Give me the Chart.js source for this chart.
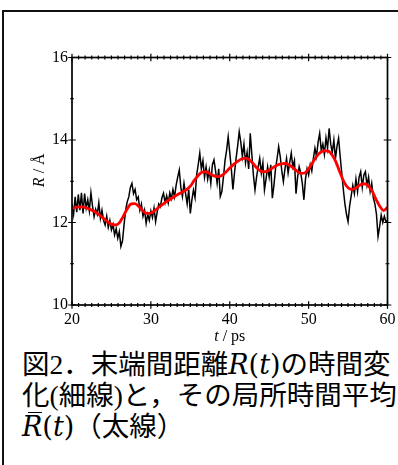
<!DOCTYPE html>
<html>
<head>
<meta charset="utf-8">
<script src="https://cdn.jsdelivr.net/npm/chart.js@4.4.1/dist/chart.umd.min.js"></script>
<style>
  html, body { margin: 0; padding: 0; background: #fff; overflow: hidden; width: 398px; height: 465px; }
  #frame { position: absolute; left: 2px; top: 10px; width: 460px; height: 520px; border: 2px solid #111; }
  #plotWrap { position: absolute; left: 0; top: 0; width: 420px; height: 345px; }
  #caption {
    position: absolute; left: 22px; top: 349px;
    font-family: "Liberation Serif", "Noto Sans CJK JP", serif;
    font-size: 27.5px; line-height: 31px; white-space: nowrap; color: #000;
  }
  .mi { font-family: "DejaVu Serif", serif; font-style: italic; font-size: 27px; }
  .mp { font-family: "DejaVu Serif", serif; font-size: 27px; }
  .rbar { position: relative; display: inline-block; }
  .rbar::before { content: ''; position: absolute; left: 6px; right: 0px; top: 1px; border-top: 1.6px solid #000; }
</style>
</head>
<body>
<div id="frame"></div>
<div id="plotWrap"><canvas id="plot"></canvas></div>
<div id="caption">図2．末端間距離<span class="mi">R</span><span class="mp">(</span><span class="mi">t</span><span class="mp">)</span>の時間変<br>化(細線)と，その局所時間平均<br><span class="mi rbar">R</span><span class="mp">(</span><span class="mi">t</span><span class="mp">)</span>（太線）</div>
<script>
// Axis ranges and tick labels
const X_MIN = 20, X_MAX = 60, X_MAJOR = 10, X_MINOR_PER_MAJOR = 12;
const Y_MIN = 10, Y_MAX = 16, Y_MAJOR = 2, Y_MINOR = 1;
const xTickLabels = ['20', '30', '40', '50', '60'];
const yTickLabels = ['10', '12', '14', '16'];

// End-to-end distance R(t), sampled every 0.2 ps from t = 20 ps
const R_T0 = 20, R_DT = 0.2;
const rRaw = [
  12.45, 12.20, 12.62, 12.25, 12.68,
  12.30, 12.72, 12.22, 12.70, 12.35,
  12.55, 12.28, 12.72, 12.40, 12.14,
  12.32, 12.20, 12.48, 12.10, 12.30,
  12.05, 11.94, 12.15, 11.88, 12.05,
  11.82, 11.95, 11.70, 11.85, 11.62,
  11.78, 11.42, 11.55, 11.95, 12.30,
  12.50, 12.62, 12.85, 12.95, 12.70,
  12.80, 12.55, 12.62, 12.30, 12.45,
  12.15, 12.30, 11.98, 12.20, 12.05,
  12.28, 12.12, 12.35, 12.02, 12.25,
  12.45, 12.38, 12.60, 12.71, 12.48,
  12.65, 12.47, 12.72, 12.58, 12.80,
  12.62, 12.90, 13.10, 13.27, 12.85,
  12.63, 12.95, 12.70, 12.45, 12.80,
  12.22, 12.55, 12.79, 12.60, 13.15,
  13.40, 13.68, 13.30, 13.50, 13.10,
  13.35, 13.05, 13.27, 12.95, 13.40,
  13.52, 13.25, 12.95, 13.30, 12.63,
  12.75, 13.10, 13.50, 13.75, 14.08,
  13.70, 13.30, 12.80, 13.20, 13.55,
  13.85, 14.20, 13.95, 13.60, 13.90,
  13.45, 13.70, 13.30, 14.16, 13.65,
  13.15, 12.79, 13.10, 13.35, 13.56,
  13.20, 13.45, 12.79, 13.05, 13.35,
  13.10, 13.40, 12.59, 12.90, 13.30,
  13.55, 13.84, 13.60, 13.25, 12.99,
  13.30, 13.55, 13.20, 13.45, 13.68,
  13.35, 13.50, 12.70, 13.10, 13.35,
  13.20, 12.95, 12.55, 13.05, 13.30,
  13.15, 13.40, 13.25, 13.55, 13.80,
  13.60, 13.95, 14.16, 13.75, 13.90,
  13.65, 14.05, 13.80, 14.28, 13.90,
  13.70, 14.00, 13.55, 13.85, 14.04,
  13.60, 13.20, 12.80, 12.45, 12.20,
  12.02, 12.40, 12.65, 12.90, 12.70,
  13.05, 12.75, 13.10, 13.23, 12.85,
  13.15, 13.23, 12.90, 13.10, 12.75,
  12.95, 12.60, 12.45, 12.20, 11.66,
  11.90, 12.18, 12.00, 12.15, 12.02,
  12.05
];

// Local time average of R(t), every 0.5 ps from t = 20 ps
const AVG_T0 = 20, AVG_DT = 0.5;
const rAvg = [
  12.33, 12.37, 12.38, 12.37, 12.34, 12.30, 12.25, 12.18, 12.10, 12.02,
  11.96, 11.94, 11.99, 12.15, 12.33, 12.45, 12.46, 12.38, 12.28, 12.22,
  12.23, 12.29, 12.37, 12.44, 12.51, 12.57, 12.63, 12.69, 12.74, 12.79,
  12.88, 13.02, 13.14, 13.22, 13.23, 13.18, 13.13, 13.11, 13.14, 13.22,
  13.32, 13.41, 13.48, 13.54, 13.56, 13.52, 13.42, 13.31, 13.24, 13.23,
  13.27, 13.33, 13.39, 13.42, 13.43, 13.40, 13.33, 13.25, 13.19, 13.20,
  13.30, 13.45, 13.60, 13.70, 13.74, 13.73, 13.63, 13.45, 13.20, 12.98,
  12.84, 12.80, 12.84, 12.91, 12.94, 12.90, 12.78, 12.58, 12.40, 12.29,
  12.37
];

const rawPoints = rRaw.map((v, i) => ({ x: R_T0 + i * R_DT, y: v }));
const avgPoints = rAvg.map((v, i) => ({ x: AVG_T0 + i * AVG_DT, y: v }));

const SERIF = '"Liberation Serif", "Times New Roman", serif';
Chart.defaults.font.family = SERIF;
Chart.defaults.color = '#000';

// Closed frame with ticks crossing each side, plus the axis titles
const frameAndTitles = {
  id: 'frameAndTitles',
  afterDatasetsDraw(chart) {
    const { ctx, chartArea: a, scales: { x, y } } = chart;
    ctx.save();
    ctx.strokeStyle = '#000';
    ctx.lineWidth = 1.7;
    ctx.strokeRect(a.left, a.top, a.right - a.left, a.bottom - a.top);

    ctx.lineWidth = 1.2;
    ctx.beginPath();
    const nx = ((X_MAX - X_MIN) / X_MAJOR) * X_MINOR_PER_MAJOR;
    for (let k = 0; k <= nx; k++) {
      const v = X_MIN + k * X_MAJOR / X_MINOR_PER_MAJOR;
      const px = x.getPixelForValue(v);
      const len = k % X_MINOR_PER_MAJOR === 0 ? 3.8 : 2;
      ctx.moveTo(px, a.top - len); ctx.lineTo(px, a.top + len);
      ctx.moveTo(px, a.bottom - len); ctx.lineTo(px, a.bottom + len);
    }
    for (let v = Y_MIN; v <= Y_MAX; v += Y_MINOR) {
      const py = y.getPixelForValue(v);
      const len = (v - Y_MIN) % Y_MAJOR === 0 ? 3.8 : 2;
      ctx.moveTo(a.left - len, py); ctx.lineTo(a.left + len, py);
      ctx.moveTo(a.right - len, py); ctx.lineTo(a.right + len, py);
    }
    ctx.stroke();

    // x title: "t / ps"
    ctx.fillStyle = '#000';
    ctx.textBaseline = 'alphabetic';
    ctx.font = 'italic 16px ' + SERIF;
    const tW = ctx.measureText('t').width;
    ctx.font = '16px ' + SERIF;
    const restW = ctx.measureText(' / ps').width;
    const cx = (a.left + a.right) / 2;
    let sx = cx - (tW + restW) / 2;
    const by = a.bottom + 36;
    ctx.font = 'italic 16px ' + SERIF;
    ctx.fillText('t', sx, by);
    ctx.font = '16px ' + SERIF;
    ctx.fillText(' / ps', sx + tW, by);

    // y title: "R / Å"
    ctx.translate(a.left - 33, (a.top + a.bottom) / 2 - 11);
    ctx.rotate(-Math.PI / 2);
    ctx.font = 'italic 16px ' + SERIF;
    const rW = ctx.measureText('R').width;
    ctx.font = '16px ' + SERIF;
    const r2W = ctx.measureText(' / Å').width;
    sx = -(rW + r2W) / 2;
    ctx.font = 'italic 16px ' + SERIF;
    ctx.fillText('R', sx, 5);
    ctx.font = '16px ' + SERIF;
    ctx.fillText(' / Å', sx + rW, 5);
    ctx.restore();
  }
};

new Chart(document.getElementById('plot'), {
  type: 'line',
  data: {
    datasets: [
      {
        label: '局所時間平均',
        data: avgPoints,
        borderColor: '#ff0000',
        borderWidth: 2.8,
        pointRadius: 0,
        tension: 0.4,
        cubicInterpolationMode: 'monotone',
        order: 0
      },
      {
        label: 'R(t)',
        data: rawPoints,
        borderColor: '#000000',
        borderWidth: 1.5,
        pointRadius: 0,
        tension: 0,
        order: 1
      }
    ]
  },
  options: {
    responsive: true,
    maintainAspectRatio: false,
    animation: false,
    events: [],
    layout: { padding: { left: 0, top: 57.5, right: 32.5, bottom: 0 } },
    plugins: { legend: { display: false }, tooltip: { enabled: false }, title: { display: false } },
    scales: {
      x: {
        type: 'linear',
        min: X_MIN, max: X_MAX,
        border: { display: false },
        grid: { display: false, drawTicks: false },
        afterFit: s => { s.height = 40; },
        afterBuildTicks: s => { s.ticks = xTickLabels.map(t => ({ value: Number(t) })); },
        ticks: {
          autoSkip: false, maxRotation: 0, padding: 5,
          color: '#000',
          font: { family: SERIF, size: 16 },
          callback: v => xTickLabels.includes(String(v)) ? String(v) : ''
        }
      },
      y: {
        type: 'linear',
        min: Y_MIN, max: Y_MAX,
        border: { display: false },
        grid: { display: false, drawTicks: false },
        afterFit: s => { s.width = 72; },
        afterBuildTicks: s => { s.ticks = yTickLabels.map(t => ({ value: Number(t) })); },
        ticks: {
          autoSkip: false, padding: 4,
          color: '#000',
          font: { family: SERIF, size: 16 },
          callback: v => yTickLabels.includes(String(v)) ? String(v) : ''
        }
      }
    }
  },
  plugins: [frameAndTitles]
});
</script>
</body>
</html>
